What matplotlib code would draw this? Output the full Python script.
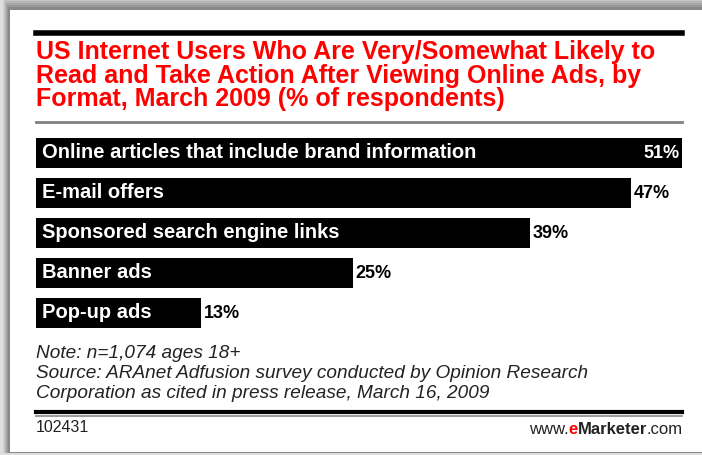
import matplotlib
matplotlib.use("Agg")
import matplotlib.pyplot as plt
from matplotlib.patches import Rectangle
from matplotlib.lines import Line2D

# data
categories = ["Online articles that include brand information", "E-mail offers",
              "Sponsored search engine links", "Banner ads", "Pop-up ads"]
values = [51, 47, 39, 25, 13]
value_labels = ["51%", "47%", "39%", "25%", "13%"]

title = ("US Internet Users Who Are Very/Somewhat Likely to\n"
         "Read and Take Action After Viewing Online Ads, by\n"
         "Format, March 2009 (% of respondents)")
note_lines = ["Note: n=1,074 ages 18+",
              "Source: ARAnet Adfusion survey conducted by Opinion Research",
              "Corporation as cited in press release, March 16, 2009"]
chart_id = "102431"

W, H = 702, 455
font = ["Liberation Sans", "DejaVu Sans"]


def fx(x):
    return x / W


def fy(y):
    return 1 - y / H


fig = plt.figure(figsize=(W / 100, H / 100), dpi=100, facecolor="#dedede")

# soft shadow then white card (square corners)
for k, a in enumerate([0.05, 0.06, 0.07, 0.08, 0.09, 0.10]):
    d = 7 - k
    fig.patches.append(Rectangle((fx(10 - d), fy(452 + 1)), 1, (452 - 10 + 2 * d) / H,
                                 transform=fig.transFigure, facecolor="black", alpha=a,
                                 edgecolor="none", zorder=-11))
fig.patches.append(Rectangle((fx(10), fy(452)), 1, (452 - 10) / H, transform=fig.transFigure,
                             facecolor="white", edgecolor="none", zorder=-9))

# rules
fig.lines.append(Line2D([fx(36), fx(682)], [fy(32.5), fy(32.5)], transform=fig.transFigure, color="black", lw=4))
fig.lines.append(Line2D([fx(36), fx(682)], [fy(122), fy(122)], transform=fig.transFigure, color="#808080", lw=2))
fig.lines.append(Line2D([fx(36), fx(682)], [fy(412), fy(412)], transform=fig.transFigure, color="black", lw=3))
fig.lines.append(Line2D([fx(36), fx(682)], [fy(415.5), fy(415.5)], transform=fig.transFigure, color="#888888", lw=1.2))

fig.text(fx(36), fy(40), title, color="#ff0000", fontsize=18, fontweight="bold",
         family=font, va="top", ha="left", linespacing=0.98)

# bars
ax = fig.add_axes([fx(36), fy(333), fx(682) - fx(36), (333 - 133) / H])
pos = list(range(len(categories)))
ax.barh(pos, values, height=0.75, color="black")
ax.set_xlim(0, values[0])
ax.set_ylim(len(categories) - 0.5, -0.5)
ax.axis("off")

for i, (c, v, lab) in enumerate(zip(categories, values, value_labels)):
    ax.annotate(c, (0, i), xytext=(4, 0), textcoords="offset points", color="white",
                fontsize=14.5, fontweight="bold", family=font, va="center", ha="left")
    if i == 0:
        ax.annotate(lab, (v, i), xytext=(-2, 0), textcoords="offset points", color="white",
                    fontsize=13, fontweight="bold", family=font, va="center", ha="right")
    else:
        ax.annotate(lab, (v, i), xytext=(2, 0), textcoords="offset points", color="black",
                    fontsize=13, fontweight="bold", family=font, va="center", ha="left")

for k, line in enumerate(note_lines):
    fig.text(fx(36), fy(353 + 20 * k), line, fontsize=13.7, style="italic", family=font,
             color="#222222", va="center", ha="left")

fig.text(fx(36), fy(428), chart_id, fontsize=11.5, family=font, color="#222222", va="center")

# www.eMarketer.com, built right to left
y_logo = fy(430)
fig.canvas.draw()
r = fig.canvas.get_renderer()
x_right = fx(683)
for part, weight, col in [(".com", "normal", "#222222"), ("Marketer", "bold", "#222222"),
                          ("e", "bold", "#ff0000"), ("www.", "normal", "#222222")]:
    t = fig.text(x_right, y_logo, part, fontsize=12, fontweight=weight, family=font,
                 color=col, va="center", ha="right")
    x_right = t.get_window_extent(r).x0 / W

fig.savefig("out.png", dpi=100, facecolor=fig.get_facecolor())
